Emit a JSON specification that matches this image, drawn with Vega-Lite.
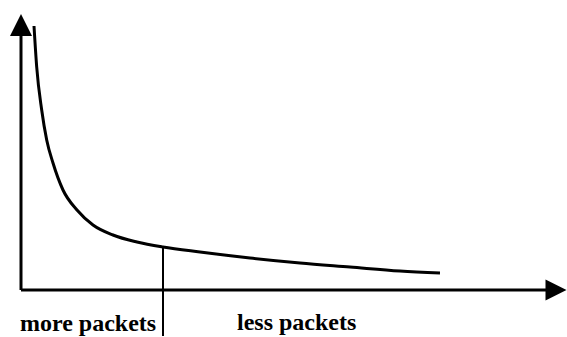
{
  "$schema": "https://vega.github.io/schema/vega-lite/v6.json",
  "width": 567,
  "height": 337,
  "padding": 0,
  "autosize": {"type": "none"},
  "background": "white",
  "config": {"view": {"stroke": null}},
  "datasets": {
    "curve": [
      {"size": 13, "count": 264},
      {"size": 15.7, "count": 223},
      {"size": 20.7, "count": 180},
      {"size": 25.7, "count": 150},
      {"size": 32, "count": 127},
      {"size": 42, "count": 100},
      {"size": 56, "count": 80},
      {"size": 72, "count": 65},
      {"size": 92, "count": 55},
      {"size": 116, "count": 48},
      {"size": 142, "count": 43},
      {"size": 179, "count": 38},
      {"size": 229, "count": 32},
      {"size": 279, "count": 27},
      {"size": 329, "count": 23},
      {"size": 379, "count": 19},
      {"size": 419, "count": 17}
    ],
    "axes": [
      {"size": 0, "count": 0, "size2": 0, "count2": 255},
      {"size": 0, "count": 0, "size2": 532, "count2": 0}
    ],
    "divider": [
      {"size": 142, "count": 43, "size2": 142, "count2": -46}
    ],
    "upArrow": [{"size": 0, "count": 265}],
    "rightArrow": [{"size": 535, "count": 0}],
    "labels": [
      {"size": -1, "count": -41, "label": "more packets"},
      {"size": 216, "count": -40, "label": "less packets"}
    ]
  },
  "encoding": {
    "x": {"field": "size", "type": "quantitative", "scale": {"domain": [-21, 546], "nice": false, "zero": false}, "axis": null},
    "y": {"field": "count", "type": "quantitative", "scale": {"domain": [-47, 290], "nice": false, "zero": false}, "axis": null}
  },
  "layer": [
    {
      "data": {"name": "axes"},
      "mark": {"type": "rule", "color": "black", "strokeWidth": 3},
      "encoding": {
        "x2": {"field": "size2"},
        "y2": {"field": "count2"}
      }
    },
    {
      "data": {"name": "upArrow"},
      "mark": {"type": "point", "shape": "M0,-1L-1,1L1,1Z", "size": 484, "filled": true, "color": "black", "opacity": 1, "strokeWidth": 0}
    },
    {
      "data": {"name": "rightArrow"},
      "mark": {"type": "point", "shape": "M1,0L-1,-1L-1,1Z", "size": 441, "filled": true, "color": "black", "opacity": 1, "strokeWidth": 0}
    },
    {
      "data": {"name": "curve"},
      "mark": {"type": "line", "interpolate": "monotone", "color": "black", "strokeWidth": 3}
    },
    {
      "data": {"name": "divider"},
      "mark": {"type": "rule", "color": "black", "strokeWidth": 2},
      "encoding": {
        "x2": {"field": "size2"},
        "y2": {"field": "count2"}
      }
    },
    {
      "data": {"name": "labels"},
      "mark": {"type": "text", "align": "left", "baseline": "alphabetic", "font": "Liberation Serif", "fontWeight": "bold", "fontSize": 24, "color": "black"},
      "encoding": {"text": {"field": "label"}}
    }
  ]
}
